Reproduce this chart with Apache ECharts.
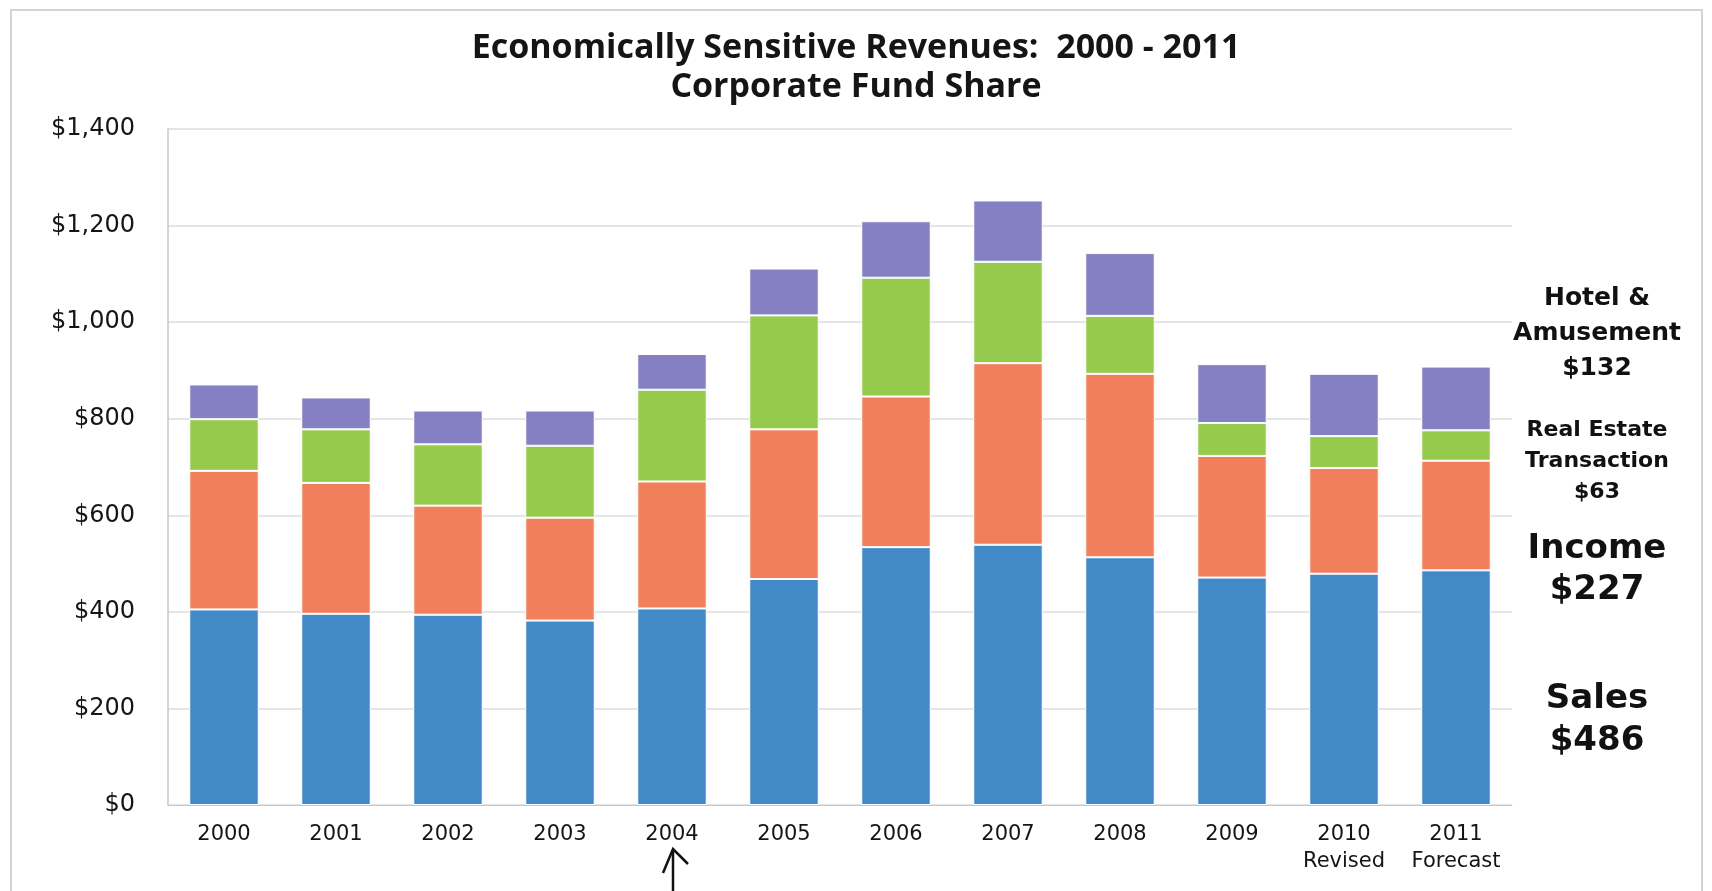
<!DOCTYPE html>
<html>
<head>
<meta charset="utf-8">
<title>Economically Sensitive Revenues: 2000 - 2011</title>
<script src="https://cdn.jsdelivr.net/npm/echarts@6/dist/echarts.min.js"></script>
<style>
  html, body { margin: 0; padding: 0; background: #ffffff; }
  #chart { width: 1712px; height: 891px; }
</style>
</head>
<body>
<div id="chart"></div>
<script>
// Corporate Fund share of economically sensitive revenues, $ millions
const years = ['2000', '2001', '2002', '2003', '2004', '2005', '2006', '2007', '2008', '2009', '2010', '2011'];
const yearNotes = ['', '', '', '', '', '', '', '', '', '', 'Revised', 'Forecast'];

const sales      = [405, 396, 394, 382, 407, 468, 534, 539, 513, 471, 479, 486];
const income     = [287, 271, 226, 213, 263, 310, 312, 376, 380, 252, 219, 227];
const realEstate = [107, 111, 127, 149, 190, 236, 246, 210, 120,  68,  66,  63];
const hotel      = [ 72,  66,  70,  73,  74,  97, 117, 127, 130, 122, 129, 132];

const yMin = 0, yMax = 1400, yStep = 200;
const markedYear = '2004';

const categories = years.map((y, i) => yearNotes[i] ? y + '\n' + yearNotes[i] : y);
const last = years.length - 1;

const chart = echarts.init(document.getElementById('chart'), null, { renderer: 'canvas' });

function barSeries(name, data, color) {
  return {
    name: name,
    type: 'bar',
    stack: 'revenue',
    data: data,
    barCategoryGap: '38%',
    itemStyle: { color: color, borderColor: '#ffffff', borderWidth: 1 },
    emphasis: { disabled: true }
  };
}

const labelFont = 'DejaVu Sans, Verdana, sans-serif';
const sideStyle = (size, lh) => ({
  fill: '#111111',
  font: 'bold ' + size + 'px "DejaVu Sans", Verdana, sans-serif',
  textAlign: 'center',
  textVerticalAlign: 'middle',
  lineHeight: lh
});

chart.setOption({
  animation: false,
  backgroundColor: '#ffffff',
  title: {
    text: 'Economically Sensitive Revenues:  2000 - 2011\nCorporate Fund Share',
    left: 'center',
    top: 24,
    textStyle: {
      fontFamily: '"Open Sans", Lato, sans-serif',
      fontWeight: 'bold',
      fontSize: 34,
      lineHeight: 39,
      color: '#151515'
    }
  },
  grid: { left: 168, right: 200, top: 129, bottom: 86 },
  xAxis: {
    type: 'category',
    data: categories,
    axisLine: { lineStyle: { color: '#c8c8c8', width: 1 } },
    axisTick: { show: false },
    axisLabel: {
      interval: 0,
      margin: 16,
      fontFamily: labelFont,
      fontSize: 21,
      lineHeight: 27,
      color: '#151515'
    }
  },
  yAxis: {
    type: 'value',
    min: yMin,
    max: yMax,
    interval: yStep,
    axisLine: { show: true, lineStyle: { color: '#c8c8c8', width: 1.5 } },
    axisTick: { show: false },
    splitLine: { lineStyle: { color: '#dcdcdc', width: 1.5 } },
    axisLabel: {
      margin: 33,
      fontFamily: labelFont,
      fontSize: 24,
      color: '#151515',
      formatter: v => '$' + v.toLocaleString('en-US')
    }
  },
  series: [
    barSeries('Sales', sales, '#4189c7'),
    barSeries('Income', income, '#f17f5c'),
    barSeries('Real Estate Transaction', realEstate, '#96ca4d'),
    barSeries('Hotel & Amusement', hotel, '#8580c4')
  ]
});

// page frame, side notes for the latest year, and the pointer under the marked year
const ax = chart.convertToPixel({ xAxisIndex: 0 }, years.indexOf(markedYear));
const sideX = 1597;

chart.setOption({
  graphic: [
    {
      type: 'rect',
      silent: true,
      shape: { x: 11, y: 10, width: 1691, height: 900 },
      style: { fill: 'none', stroke: '#d4d4d4', lineWidth: 2 }
    },
    {
      type: 'text', silent: true, x: sideX, y: 333,
      style: Object.assign({ text: 'Hotel &\nAmusement\n$' + hotel[last] }, sideStyle(25, 35))
    },
    {
      type: 'text', silent: true, x: sideX, y: 461,
      style: Object.assign({ text: 'Real Estate\nTransaction\n$' + realEstate[last] }, sideStyle(22, 31))
    },
    {
      type: 'text', silent: true, x: sideX, y: 570,
      style: Object.assign({ text: 'Income\n$' + income[last] }, sideStyle(34, 41))
    },
    {
      type: 'text', silent: true, x: sideX, y: 720,
      style: Object.assign({ text: 'Sales\n$' + sales[last] }, sideStyle(34, 42))
    },
    {
      type: 'polyline', silent: true,
      shape: { points: [[ax + 1, 850], [ax + 1, 895]] },
      style: { stroke: '#111111', lineWidth: 2.5, fill: 'none' }
    },
    {
      type: 'polyline', silent: true,
      shape: { points: [[ax - 9, 873], [ax + 1, 849], [ax + 16, 864]] },
      style: { stroke: '#111111', lineWidth: 2.5, fill: 'none', lineJoin: 'miter' }
    }
  ]
});
</script>
</body>
</html>
